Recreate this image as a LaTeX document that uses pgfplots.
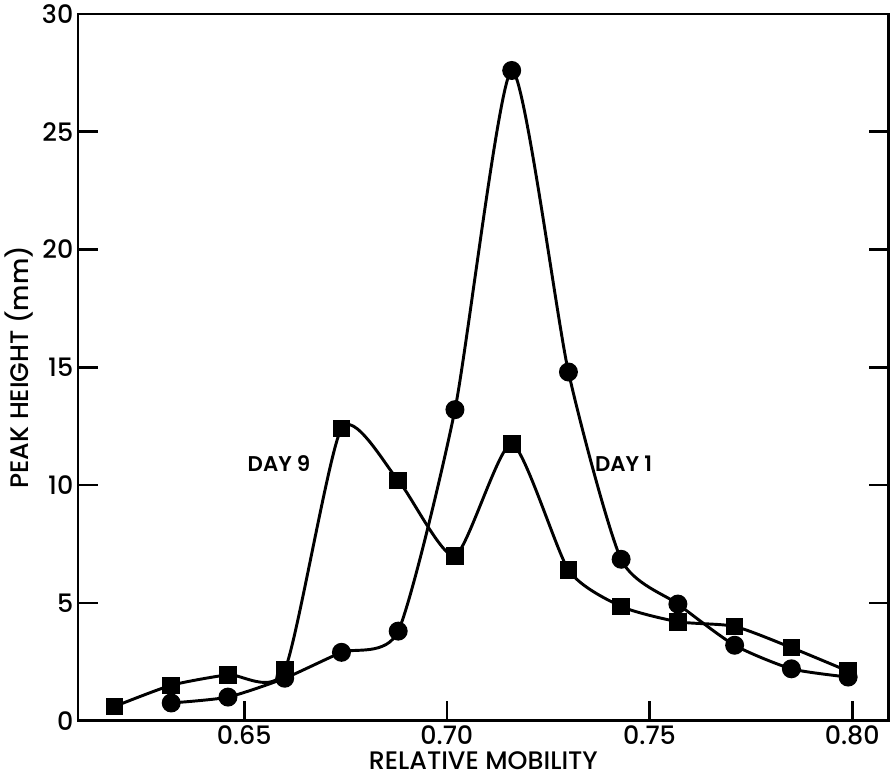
\documentclass[border=0pt]{standalone}
\usepackage{fontspec}
\setmainfont{Poppins}[UprightFont={* Medium}, BoldFont={* SemiBold}]
\usepackage{pgfplots}
\pgfplotsset{compat=1.18}

% Day 9 (squares) and Day 1 (circles)
\pgfplotstableread{
x      y
0.618  0.6
0.632  1.5
0.646  1.95
0.660  2.15
0.674  12.4
0.688  10.2
0.702  7.0
0.716  11.75
0.730  6.4
0.743  4.85
0.757  4.2
0.771  4.0
0.785  3.1
0.799  2.1
}\dayNine
\pgfplotstableread{
x      y
0.632  0.75
0.646  1.0
0.660  1.8
0.674  2.9
0.688  3.8
0.702  13.2
0.716  27.6
0.730  14.8
0.743  6.85
0.757  4.95
0.771  3.2
0.785  2.2
0.799  1.85
}\dayOne

\begin{document}
\begin{tikzpicture}
\begin{axis}[
  scale only axis,
  width=608pt, height=530pt,
  xmin=0.609, xmax=0.809,
  ymin=0, ymax=30,
  xtick={0.65,0.70,0.75,0.80},
  ytick={0,5,...,30},
  xtick pos=left, ytick pos=both,
  tick align=inside,
  major tick length=15pt,
  xticklabel style={/pgf/number format/.cd,fixed,fixed zerofill,precision=2},
  /pgf/number format/assume math mode=true,
  tick label style={font=\fontsize{19}{21}\selectfont},
  label style={font=\fontsize{19}{21}\selectfont},
  xlabel={RELATIVE MOBILITY},
  ylabel={PEAK HEIGHT (mm)},
  xlabel style={inner ysep=2pt},
  axis line style={line width=2pt},
  every tick/.style={black, line width=2pt},
]
\addplot[smooth, tension=0.38, line width=2.2pt, mark=square*, mark size=5.5pt,
  mark options={solid}] table {\dayNine};
\addplot[smooth, tension=0.38, line width=2.2pt, mark=*, mark size=6pt] table {\dayOne};
\node[font=\bfseries\fontsize{16}{18}\selectfont] at (axis cs:0.6586,10.9) {DAY 9};
\node[font=\bfseries\fontsize{16}{18}\selectfont] at (axis cs:0.7436,10.9) {DAY 1};
\end{axis}
\path (current bounding box.south) ++(0,-3pt) coordinate (pad);
\end{tikzpicture}
\end{document}
